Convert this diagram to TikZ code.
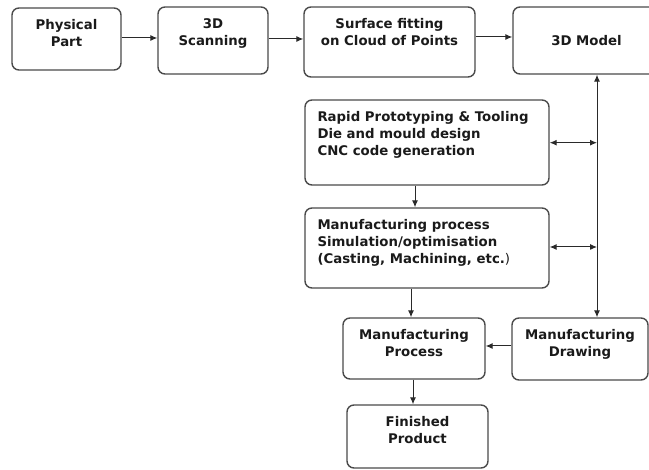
\documentclass[tikz,border=0pt]{standalone}
\usepackage{fontspec}
\setmainfont{DejaVu Sans}
\usetikzlibrary{arrows.meta,calc}
\definecolor{boxline}{HTML}{4A4A4A}
\definecolor{arrline}{HTML}{2A2A2A}
\definecolor{txt}{HTML}{1A1A1A}
\tikzset{
  box/.style={draw=boxline, line width=1.4pt, rounded corners=7pt, inner sep=0pt},
  toptext/.style={label={[anchor=north, yshift=-12pt, inner sep=0pt, align=center]north:{#1}}},
  lefttext/.style={label={[anchor=north west, xshift=13pt, yshift=-12pt, inner sep=0pt, align=left]north west:{#1}}},
  arr/.style={draw=arrline, line width=1pt, -{Latex[length=7pt,width=6pt]}},
  darr/.style={draw=arrline, line width=1pt, {Latex[length=7pt,width=6pt]}-{Latex[length=7pt,width=6pt]}}
}
\begin{document}
\begin{tikzpicture}[x=1pt, y=-1pt, font=\bfseries\fontsize{13.3}{16.7}\selectfont, text=txt]
  \useasboundingbox (0,0) rectangle (649,470);

  % boxes
  \node[box, minimum width=109pt, minimum height=62pt, toptext={Physical\\Part}] (phys) at (66.5,39) {};
  \node[box, minimum width=110pt, minimum height=67pt, toptext={3D\\Scanning}] (scan) at (213,40.5) {};
  \node[box, minimum width=171pt, minimum height=70pt, toptext={Surface fitting\\on Cloud of Points}] (surf) at (389.5,42) {};
  \node[box, minimum width=147pt, minimum height=67pt] (model) at (586.5,40.5) {3D Model};
  \node[box, minimum width=244pt, minimum height=85pt,
        lefttext={Rapid Prototyping \& Tooling\\Die and mould design\\CNC code generation}] (rapid) at (427,142.5) {};
  \node[box, minimum width=244pt, minimum height=80pt,
        lefttext={Manufacturing process\\Simulation/optimisation\\(Casting, Machining, etc.{\mdseries)}}] (sim) at (427,248) {};
  \node[box, minimum width=142pt, minimum height=61pt, toptext={Manufacturing\\Process}] (proc) at (414,348.5) {};
  \node[box, minimum width=136pt, minimum height=62pt, toptext={Manufacturing\\Drawing}] (drw) at (580,349) {};
  \node[box, minimum width=141pt, minimum height=63pt, toptext={Finished\\Product}] (fin) at (417.5,436.5) {};

  % spine from 3D Model down to drawing
  \coordinate (top) at (597,0 |- model.south);
  \coordinate (bot) at (597,0 |- drw.north);
  \coordinate (c1) at (597,142.7);
  \coordinate (c2) at (597,247);

  % connectors
  \draw[arr] (phys.east |- 0,38) -- (scan.west |- 0,38);
  \draw[arr] (scan.east |- 0,39) -- (surf.west |- 0,39);
  \draw[arr] (surf.east |- 0,37) -- (model.west |- 0,37);
  \draw[darr] (top) -- (bot);
  \draw[darr] (rapid.east |- c1) -- (c1);
  \draw[darr] (sim.east |- c2) -- (c2);
  \draw[arr] (415,0 |- rapid.south) -- (415,0 |- sim.north);
  \draw[arr] (411,0 |- sim.south) -- (411,0 |- proc.north);
  \draw[arr] (drw.west |- 0,346) -- (proc.east |- 0,346);
  \draw[arr] (413,0 |- proc.south) -- (413,0 |- fin.north);
\end{tikzpicture}
\end{document}
